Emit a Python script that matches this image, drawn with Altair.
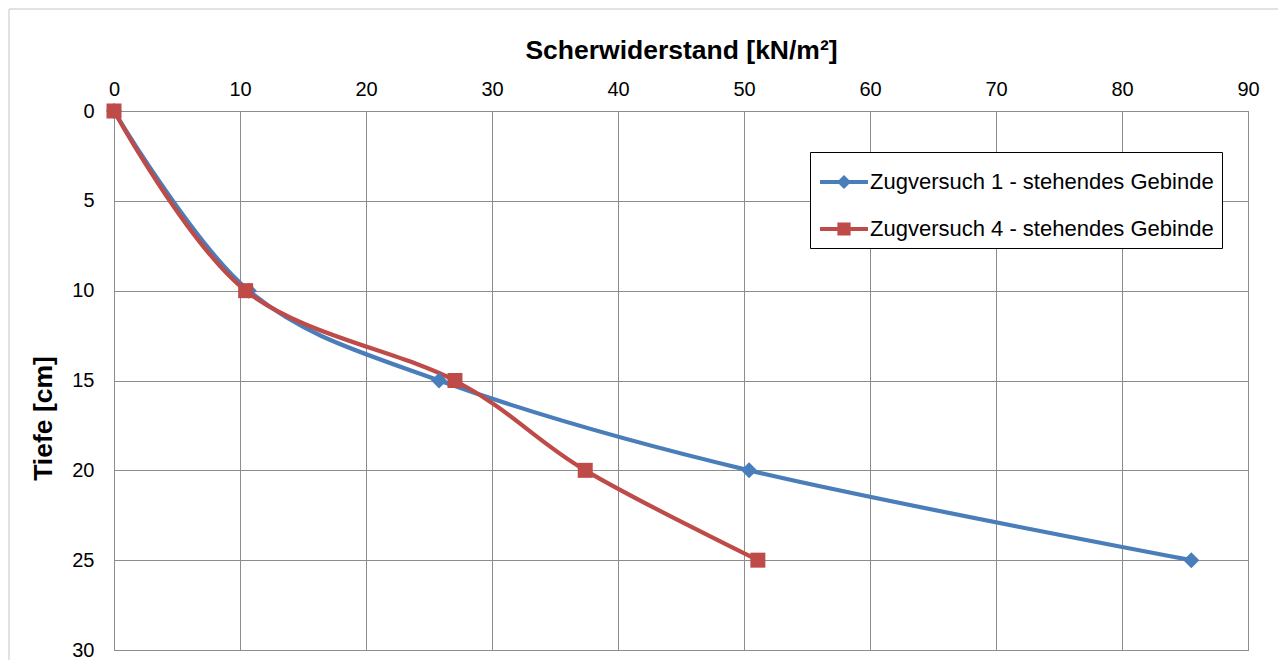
import altair as alt
import pandas as pd

series_names = ["Zugversuch 1 - stehendes Gebinde", "Zugversuch 4 - stehendes Gebinde"]
tiefe = [0, 10, 15, 20, 25]
scher_1 = [0, 10.7, 25.8, 50.4, 85.5]
scher_4 = [0, 10.45, 27.06, 37.4, 51.1]
x_ticks = [0, 10, 20, 30, 40, 50, 60, 70, 80, 90]
y_ticks = [0, 5, 10, 15, 20, 25, 30]

blue = "#4A7EBB"
red = "#BE4B48"

rows = []
for t, v in zip(tiefe, scher_1):
    rows.append({"Serie": series_names[0], "Tiefe": t, "Scher": v})
for t, v in zip(tiefe, scher_4):
    rows.append({"Serie": series_names[1], "Tiefe": t, "Scher": v})
df = pd.DataFrame(rows)

FONT = "Liberation Sans"

x_enc = alt.X("Scher:Q",
              scale=alt.Scale(domain=[0, 90], nice=False, zero=False),
              axis=alt.Axis(orient="top", values=x_ticks, title="Scherwiderstand [kN/m²]",
                            titleFontSize=26.5, titleFontWeight="bold", titleFont=FONT,
                            titleColor="black", titlePadding=15,
                            labelFont=FONT, labelFontSize=20, labelColor="black",
                            labelPadding=12, labelFlush=False, ticks=False,
                            domainColor="#8c8c8c",
                            grid=True, gridColor="#8c8c8c", gridOpacity=1))
y_enc = alt.Y("Tiefe:Q",
              scale=alt.Scale(domain=[0, 30], reverse=True, nice=False, zero=False),
              axis=alt.Axis(orient="left", values=y_ticks, title="Tiefe [cm]",
                            titleFontSize=26.5, titleFontWeight="bold", titleFont=FONT,
                            titleColor="black", titleX=-57, titleY=307,
                            labelFont=FONT, labelFontSize=20, labelColor="black",
                            labelPadding=20, labelFlush=False, ticks=False,
                            domainColor="#8c8c8c",
                            grid=True, gridColor="#8c8c8c", gridOpacity=1))

base = alt.Chart(df)

# light outer chart frame (decoration): top and left edges only
frame_src = alt.Chart(pd.DataFrame({"f": [0]}))
frame_top = frame_src.mark_rule(stroke="#d9d9d9", strokeWidth=1.5).encode(
    x=alt.value(-105), x2=alt.value(1170), y=alt.value(-102))
frame_left = frame_src.mark_rule(stroke="#d9d9d9", strokeWidth=1.5).encode(
    x=alt.value(-105), y=alt.value(-102), y2=alt.value(560))

line1 = base.transform_filter(alt.datum.Serie == series_names[0]).mark_line(
    interpolate="cardinal", strokeWidth=4.2, color=blue
).encode(x=x_enc, y=y_enc, order="Tiefe:Q")
line4 = base.transform_filter(alt.datum.Serie == series_names[1]).mark_line(
    interpolate="cardinal", strokeWidth=4.2, color=red
).encode(x=x_enc, y=y_enc, order="Tiefe:Q")
pts1 = base.transform_filter(alt.datum.Serie == series_names[0]).mark_point(
    shape="diamond", size=256, filled=True, opacity=1, color=blue
).encode(x=x_enc, y=y_enc)
pts4 = base.transform_filter(alt.datum.Serie == series_names[1]).mark_point(
    shape="square", size=225, filled=True, opacity=1, color=red
).encode(x=x_enc, y=y_enc)

sym_diamond = "M-1.09,-0.095H1.09V0.095H-1.09Z M0,-0.32L0.32,0L0,0.32L-0.32,0Z"
sym_square = "M-1.09,-0.095H1.09V0.095H-1.09Z M-0.3,-0.3H0.3V0.3H-0.3Z"

legend_layer = base.transform_filter("false").mark_point(filled=True, opacity=1).encode(
    x=x_enc, y=y_enc,
    color=alt.Color("Serie:N",
                    scale=alt.Scale(domain=series_names, range=[blue, red]),
                    legend=alt.Legend(title=None, orient="none", legendX=696, legendY=41,
                                      strokeColor="black", fillColor="white", padding=8,
                                      rowPadding=14, symbolSize=1936, symbolOffset=4,
                                      labelOffset=4, labelFont=FONT, labelFontSize=22,
                                      labelColor="black", labelLimit=600,
                                      symbolStrokeWidth=0)),
    shape=alt.Shape("Serie:N",
                    scale=alt.Scale(domain=series_names, range=[sym_diamond, sym_square]),
                    legend=alt.Legend(title=None, orient="none", legendX=696, legendY=41)),
)

chart = alt.layer(frame_top, frame_left, line1, line4, pts1, pts4, legend_layer).properties(
    width=1134, height=539,
    autosize=alt.AutoSizeParams(type="none"),
    padding={"left": 106, "top": 103, "right": 30, "bottom": 10},
).configure_view(stroke="#8c8c8c", strokeWidth=1)

chart.save("out.html", embed_options={"renderer": "svg", "actions": False})
